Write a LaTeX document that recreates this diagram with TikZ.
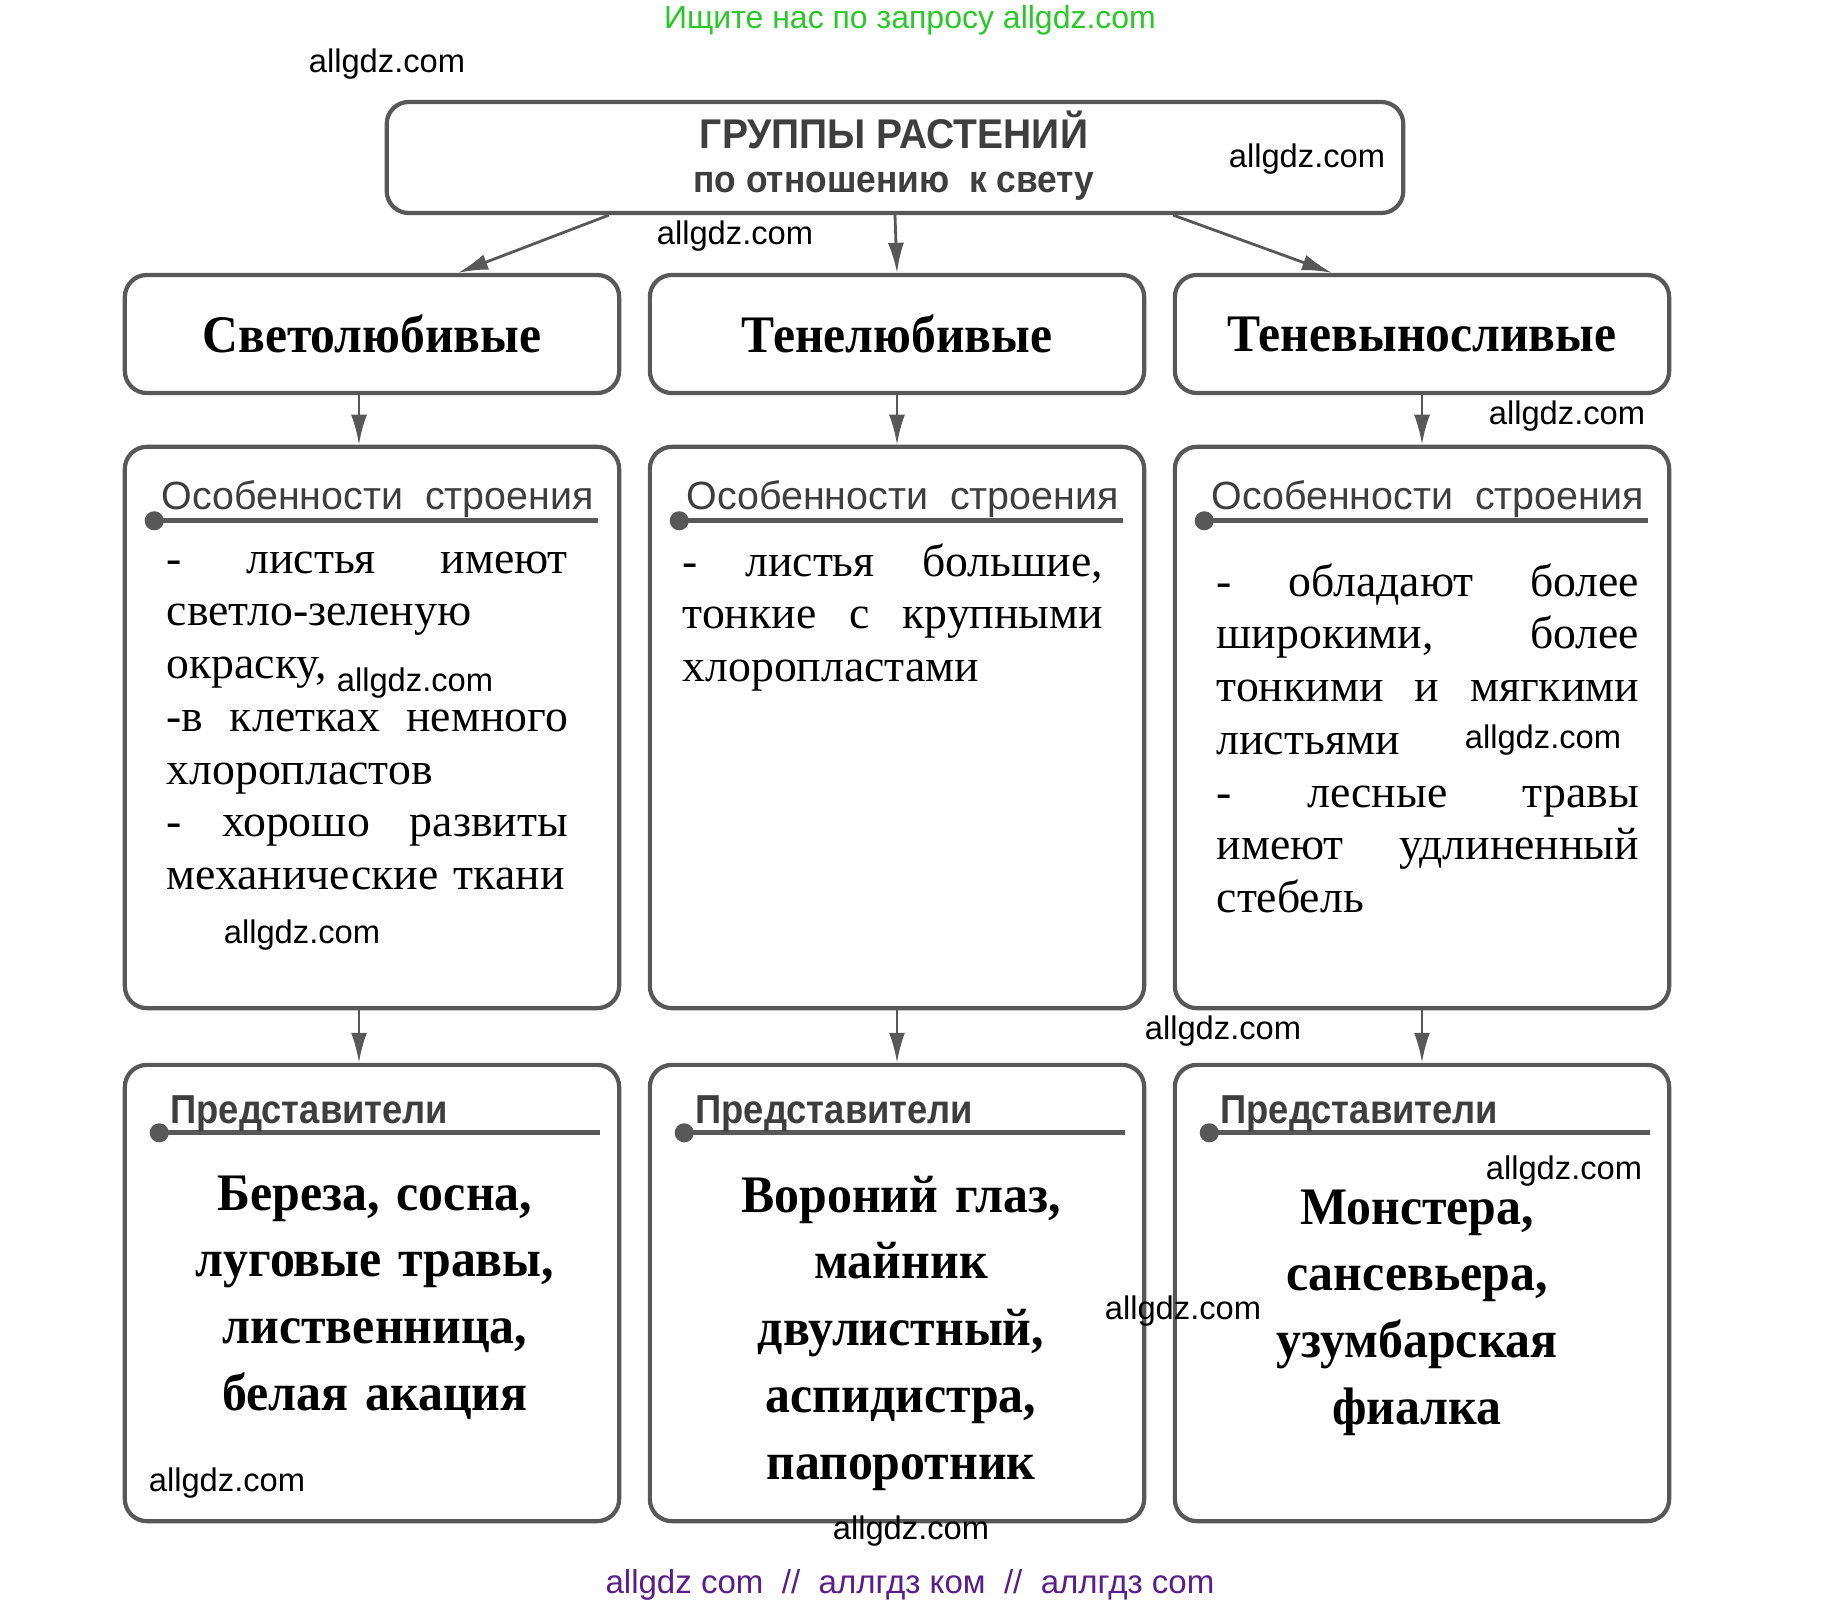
\documentclass[tikz,border=0pt]{standalone}
\usepackage{fontspec}
\setmainfont{Liberation Serif}
\setsansfont{Liberation Sans}
\usetikzlibrary{arrows.meta,positioning}
\definecolor{framegray}{RGB}{88,88,88}
\definecolor{headgray}{RGB}{62,62,62}
\definecolor{wmgreen}{RGB}{40,200,40}
\definecolor{wmpurple}{RGB}{90,30,140}
\newcommand{\fullline}[1]{\makebox[\hsize][s]{\spaceskip=0pt\xspaceskip=0pt\relax #1}}
\newcommand{\grouptitle}[1]{\raisebox{-0.06cm}{\scalebox{0.94}[1]{#1}}}

\begin{document}
\begin{tikzpicture}[x=0.01cm, y=-0.01cm,
      box/.style={rectangle, rounded corners=0.22cm, draw=framegray, line width=1.2pt,
                  minimum width=4.94cm, inner sep=0pt},
      groupbox/.style={box, minimum height=1.18cm, font=\bfseries\fontsize{15}{18}\selectfont},
      arr/.style={draw=framegray, line width=0.8pt, -{Latex[length=0.3cm, width=0.16cm]}},
      bar/.style={draw=framegray, line width=1.35pt, {Circle[length=0.19cm]}-},
      featfont/.style={font=\sffamily\fontsize{11.2}{13}\selectfont, text=headgray, inner sep=0pt},
      repfont/.style={font=\sffamily\bfseries\fontsize{11.5}{13}\selectfont, text=headgray, inner sep=0pt, xscale=0.9},
      body/.style={font=\fontsize{13}{15}\selectfont, inner sep=0pt, align=left},
      names/.style={font=\bfseries\fontsize{15}{19}\selectfont, inner sep=0pt, align=center,
                    text width=4.8cm, xscale=0.945},
      wm/.style={font=\sffamily\fontsize{9.3}{11}\selectfont, inner sep=0pt}]
    \useasboundingbox (0,0) rectangle (1821,1609);

    % top box
    \node[box, minimum width=10.16cm, minimum height=1.11cm] (groups) at (895,157.5) {};
    \node[font=\sffamily\bfseries\fontsize{11.8}{13}\selectfont, text=headgray, xscale=0.94] (groupstitle) at (894,130) {ГРУППЫ РАСТЕНИЙ};
    \node[font=\sffamily\bfseries\fontsize{10.8}{13}\selectfont, text=headgray, xscale=0.93] (groupssub) at (894,186) {по отношению\ \ к свету};

    % groups
    \node[groupbox] (light) at (372,334) {\grouptitle{Светолюбивые}};
    \node[groupbox] (shade) at (897,334) {\grouptitle{Тенелюбивые}};
    \node[groupbox] (tolerant) at (1422,334) {\grouptitle{Теневыносливые}};

    % features
    \node[box, minimum height=5.61cm] (lightfeat) at (372,727.5) {};
    \node[box, minimum height=5.61cm] (shadefeat) at (897,727.5) {};
    \node[box, minimum height=5.61cm] (tolfeat) at (1422,727.5) {};

    % representatives
    \node[box, minimum height=4.56cm] (lightrep) at (372,1293) {};
    \node[box, minimum height=4.56cm] (shaderep) at (897,1293) {};
    \node[box, minimum height=4.56cm] (tolrep) at (1422,1293) {};

    \draw[arr] ([xshift=-2.86cm]groups.south) -- ([xshift=0.86cm]light.north);
    \draw[arr] (groups.south) -- (shade.north);
    \draw[arr] ([xshift=2.78cm]groups.south) -- ([xshift=-0.9cm]tolerant.north);
    \draw[arr] ([xshift=-0.13cm]light.south) -- ([xshift=-0.13cm]lightfeat.north);
    \draw[arr] (shade.south) -- (shadefeat.north);
    \draw[arr] (tolerant.south) -- (tolfeat.north);
    \draw[arr] ([xshift=-0.13cm]lightfeat.south) -- ([xshift=-0.13cm]lightrep.north);
    \draw[arr] (shadefeat.south) -- (shaderep.north);
    \draw[arr] (tolfeat.south) -- (tolrep.north);

    % headings with bars
    \draw[bar] ([xshift=0.22cm, yshift=-0.76cm]lightfeat.north west) -- ([xshift=-0.23cm, yshift=-0.76cm]lightfeat.north east);
    \draw[bar] ([xshift=0.22cm, yshift=-0.76cm]shadefeat.north west) -- ([xshift=-0.23cm, yshift=-0.76cm]shadefeat.north east);
    \draw[bar] ([xshift=0.22cm, yshift=-0.76cm]tolfeat.north west) -- ([xshift=-0.23cm, yshift=-0.76cm]tolfeat.north east);
    \node[featfont, anchor=base west] (lighthead) at ([xshift=0.38cm, yshift=-0.65cm]lightfeat.north west) {Особенности\ \ строения};
    \node[featfont, anchor=base west] (shadehead) at ([xshift=0.38cm, yshift=-0.65cm]shadefeat.north west) {Особенности\ \ строения};
    \node[featfont, anchor=base west] (tolhead) at ([xshift=0.38cm, yshift=-0.65cm]tolfeat.north west) {Особенности\ \ строения};
    \draw[bar] ([xshift=0.27cm, yshift=-0.70cm]lightrep.north west) -- ([xshift=-0.21cm, yshift=-0.70cm]lightrep.north east);
    \draw[bar] ([xshift=0.27cm, yshift=-0.70cm]shaderep.north west) -- ([xshift=-0.21cm, yshift=-0.70cm]shaderep.north east);
    \draw[bar] ([xshift=0.27cm, yshift=-0.70cm]tolrep.north west) -- ([xshift=-0.21cm, yshift=-0.70cm]tolrep.north east);
    \node[repfont, anchor=base west] (lightrephead) at ([xshift=0.47cm, yshift=-0.61cm]lightrep.north west) {Представители};
    \node[repfont, anchor=base west] (shaderephead) at ([xshift=0.47cm, yshift=-0.61cm]shaderep.north west) {Представители};
    \node[repfont, anchor=base west] (tolrephead) at ([xshift=0.47cm, yshift=-0.61cm]tolrep.north west) {Представители};

    % texts
    \node[body, text width=4.01cm, anchor=base west] (lighttext) at (166,573) {%
      \fullline{- листья имеют}\\
      светло-зеленую\\
      окраску,\\
      \fullline{-в клетках немного}\\
      хлоропластов\\
      \fullline{- хорошо развиты}\\
      механические ткани};
    \node[body, text width=4.2cm, anchor=base west] (shadetext) at (682,576) {%
      \fullline{- листья большие,}\\
      \fullline{тонкие с крупными}\\
      хлоропластами};
    \node[body, text width=4.22cm, anchor=base west] (toltext) at (1216,596) {%
      \fullline{- обладают более}\\
      \fullline{широкими, более}\\
      \fullline{тонкими и мягкими}\\
      листьями\\
      \fullline{- лесные травы}\\
      \fullline{имеют удлиненный}\\
      стебель};
    \node[names, anchor=base] (lightnames) at (375,1210) {Береза, сосна,\\луговые травы,\\лиственница,\\белая акация};
    \node[names, anchor=base] (shadenames) at (901,1212) {Вороний глаз,\\майник\\двулистный,\\аспидистра,\\папоротник};
    \node[names, anchor=base] (tolnames) at (1417,1224) {Монстера,\\сансевьера,\\узумбарская\\фиалка};

    % watermarks
    \node[wm, text=wmgreen, font=\sffamily\fontsize{9.1}{11}\selectfont] (search) at (910,20) {Ищите нас по запросу allgdz.com};
    \node[wm] (wm1) at (387,64) {allgdz.com};
    \node[wm] (wm2) at (1307,159) {allgdz.com};
    \node[wm] (wm3) at (735,236) {allgdz.com};
    \node[wm] (wm4) at (1567,416) {allgdz.com};
    \node[wm] (wm5) at (415,683) {allgdz.com};
    \node[wm] (wm6) at (1543,740) {allgdz.com};
    \node[wm] (wm7) at (302,935) {allgdz.com};
    \node[wm] (wm8) at (1223,1031) {allgdz.com};
    \node[wm] (wm9) at (1564,1171) {allgdz.com};
    \node[wm] (wm10) at (1183,1311) {allgdz.com};
    \node[wm] (wm11) at (227,1483) {allgdz.com};
    \node[wm] (wm12) at (911,1531) {allgdz.com};
    \node[wm, text=wmpurple, font=\sffamily\fontsize{9.4}{11}\selectfont] (mirrors) at (910,1585) {allgdz com\ \ //\ \ аллгдз ком\ \ //\ \ аллгдз com};
  \end{tikzpicture}
\end{document}
